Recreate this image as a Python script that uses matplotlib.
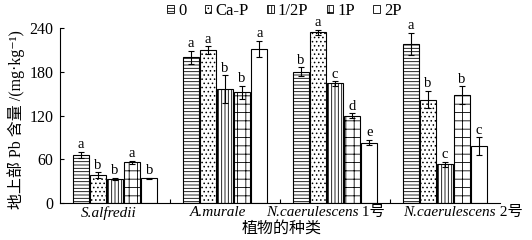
import numpy as np
import matplotlib
matplotlib.use("Agg")
import matplotlib.pyplot as plt
from matplotlib.offsetbox import TextArea, HPacker, AnnotationBbox

plt.rcParams['font.family'] = ['Liberation Serif', 'Noto Sans CJK SC', 'DejaVu Sans']
plt.rcParams['hatch.linewidth'] = 0.6

# 数据
species = ["S.alfredii", "A.murale", "N.caerulescens", "N.caerulescens"]
species_suffix = ["", "", " 1号", " 2号"]
treatments = ["0", "Ca-P", "1/2P", "1P", "2P"]
pb_0 = [66, 200, 180, 218]
pb_cap = [38, 210, 234, 142]
pb_half = [33, 156, 164, 53]
pb_1p = [56, 152, 120, 148]
pb_2p = [34, 211, 83, 78]
err_0 = [4, 9, 6, 15]
err_cap = [4, 5, 4, 12]
err_half = [2, 19, 3, 3]
err_1p = [2, 9, 3, 12]
err_2p = [1, 11, 4, 12]
letters_0 = ["a", "a", "b", "a"]
letters_cap = ["b", "a", "a", "b"]
letters_half = ["b", "b", "c", "c"]
letters_1p = ["a", "b", "d", "b"]
letters_2p = ["b", "a", "e", "c"]

values = [pb_0, pb_cap, pb_half, pb_1p, pb_2p]
errors = [err_0, err_cap, err_half, err_1p, err_2p]
letters = [letters_0, letters_cap, letters_half, letters_1p, letters_2p]
hatches = ["-----", "....", "|||||", "++", ""]

fig = plt.figure(figsize=(5.32, 2.40), dpi=100)
ax = fig.add_axes([0.113, 0.154, 0.827, 0.729])

x = np.arange(len(species))
w = 0.155
for i, t in enumerate(treatments):
    pos = x + (i - 2) * w
    ax.bar(pos, values[i], w * 0.95, color="white", edgecolor="black",
           linewidth=0.8, hatch=hatches[i], label=t,
           yerr=errors[i], capsize=2.5,
           error_kw=dict(elinewidth=0.8, capthick=0.8, ecolor="black"))
    for p, v, e, l in zip(pos, values[i], errors[i], letters[i]):
        ax.text(p, v + e + 1, l, ha="center", va="bottom", fontsize=10.5)

ax.set_xlim(-0.5, 3.5)
ax.set_ylim(0, 240)
ax.set_yticks([0, 60, 120, 180, 240])
ax.set_xticks([0.5, 1.5, 2.5])
ax.set_xticklabels([])
ax.tick_params(axis="both", direction="in", labelsize=11.5, length=3, width=0.8)
ax.tick_params(axis="y", pad=5)
for s in ["top", "right"]:
    ax.spines[s].set_visible(False)
for s in ["left", "bottom"]:
    ax.spines[s].set_linewidth(0.8)

# 物种标签（斜体 + 正体后缀），位置略作偏移以免重叠
label_shift = [-4.5, -5, -7, 13]
for xi, name, suf, dx in zip(x, species, species_suffix, label_shift):
    parts = [TextArea(name, textprops=dict(fontsize=11, style="italic",
                                           family="Liberation Serif"))]
    if suf:
        parts.append(TextArea(suf, textprops=dict(fontsize=11,
                              family=["Liberation Serif", "Noto Sans CJK SC"])))
    box = HPacker(children=parts, align="baseline", pad=0, sep=0)
    ab = AnnotationBbox(box, (xi, 0), xybox=(dx, -7), xycoords=("data", "axes fraction"),
                        boxcoords="offset points", frameon=False, box_alignment=(0.5, 0.5))
    ax.add_artist(ab)

fig.text(0.53, 0.05, "植物的种类", fontsize=11.5, ha="center", va="center",
         family=["Noto Sans CJK SC", "Liberation Serif"])
fig.text(0.03, 0.5, "地上部 Pb 含量 /(mg·kg⁻¹)", fontsize=11.5, rotation=90,
         ha="center", va="center",
         family=["Liberation Serif", "Noto Sans CJK SC", "DejaVu Sans"])

leg = ax.legend(ncol=5, loc="center", bbox_to_anchor=(0.51, 1.1),
                frameon=False, fontsize=12, handlelength=0.4, handleheight=0.35,
                handletextpad=0.25, columnspacing=1.1, borderaxespad=0.0)
for h in leg.legend_handles:
    h.set_linewidth(0.6)

fig.savefig("out.png", dpi=100)
